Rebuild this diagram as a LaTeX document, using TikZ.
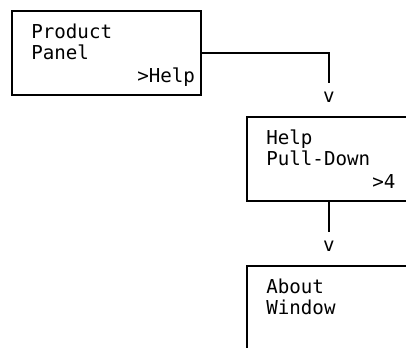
\documentclass[tikz,border=0pt]{standalone}
\usepackage{fontspec}
\setmonofont{DejaVu Sans Mono}
\usetikzlibrary{positioning}

\begin{document}
\begin{tikzpicture}[
  panel/.style={draw, rectangle, minimum width=113.4pt, minimum height=50.4pt, inner sep=0pt, outer sep=0pt, line width=0.65pt},
  txt/.style={font=\ttfamily\fontsize{11.5pt}{12.9pt}\selectfont, align=left, inner sep=0pt, anchor=base west},
  tip/.style={font=\ttfamily\fontsize{11.5pt}{12.9pt}\selectfont, inner sep=0pt, anchor=base},
  link/.style={line width=0.65pt, shorten >=4.8pt},
  node distance=13.2pt and 27.6pt
]
\useasboundingbox (0,0) rectangle (243.6pt,-208.8pt);
\clip (0,0) rectangle (243.6pt,-208.8pt);

\node[panel, anchor=north west] (prod) at (7.2pt,-6.6pt) {};
\node[panel, below right=13.2pt and 27.6pt of prod] (pull) {};
\node[panel, below=39pt of pull] (about) {};

% panel texts
\node[txt] (prodname) at ([shift={(11.4pt,-29.1pt)}]prod.north west) {Product\\Panel};
\node[txt] (prodhelp) at ([shift={(75pt,-42.6pt)}]prod.north west) {>Help};
\node[txt] (pullname) at ([shift={(11.4pt,-29.1pt)}]pull.north west) {Help\\Pull-Down};
\node[txt] (pullfour) at ([shift={(75pt,-42.6pt)}]pull.north west) {>4};
\node[txt] (aboutname) at ([shift={(11.4pt,-29.1pt)}]about.north west) {About\\Window};

% the v marks
\node[tip] (tip1) at ([shift={(49.2pt,9pt)}]pull.north west) {v};
\node[tip] (tip2) at ([shift={(49.2pt,9pt)}]about.north west) {v};

\draw[link] (prod.east) -| (tip1.north);
\draw[link] (pull.south -| tip2) -- (tip2.north);
\end{tikzpicture}
\end{document}
